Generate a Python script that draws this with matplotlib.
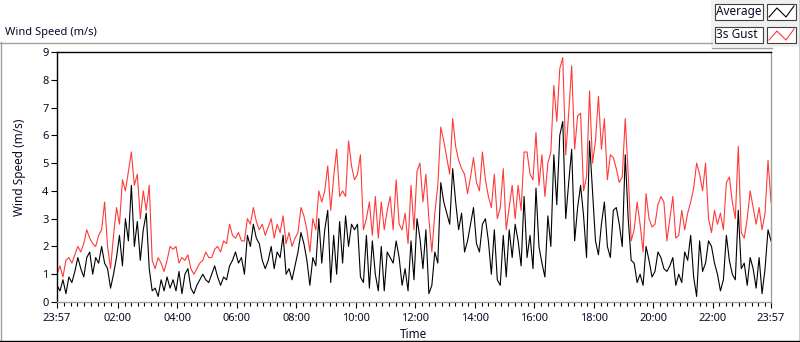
import matplotlib

matplotlib.use("Agg")
import matplotlib.pyplot as plt
import numpy as np
from matplotlib.lines import Line2D
from matplotlib.patches import Rectangle

plt.rcParams["font.family"] = ["Noto Sans", "DejaVu Sans"]

# samples every 6 minutes, starting 23:57
STEP_MIN = 6

gust_ms = [
    1.0, 1.3, 0.9, 1.5, 1.6, 1.4, 1.7, 2.0, 1.8, 2.1,
    2.6, 2.3, 2.1, 2.0, 2.4, 2.6, 3.6, 2.0, 1.2, 2.4,
    3.4, 2.8, 4.4, 4.0, 4.7, 5.4, 4.2, 4.6, 3.0, 4.0,
    3.3, 4.2, 1.5, 1.2, 1.6, 1.4, 1.1, 1.5,
    2.0, 1.9, 2.0, 1.4, 1.6, 1.5, 1.7, 1.2, 1.0, 1.2,
    1.4, 1.5, 1.8, 1.6, 1.6, 1.9, 2.0, 1.8, 2.2, 2.1,
    2.8, 2.4, 2.3, 2.5, 2.2, 2.2, 3.0, 2.8, 3.4, 2.9,
    2.6, 2.8, 2.4, 2.7, 3.0, 2.3, 2.8, 2.5, 3.1,
    2.1, 2.5, 2.0, 2.3, 2.5, 3.4, 3.1, 2.6, 1.8, 3.0,
    2.6, 4.0, 3.6, 4.0, 4.9, 3.3, 4.5, 5.5, 3.8, 4.0,
    3.8, 5.8, 4.9, 4.4, 4.6, 5.3, 2.6, 3.0, 3.6, 2.4,
    3.8, 2.3, 3.6, 2.6, 3.3, 3.8, 2.6, 4.4,
    2.8, 2.6, 3.2, 2.1, 4.2, 2.6, 4.7, 5.0, 3.6, 4.6,
    3.0, 1.8, 3.2, 4.2, 6.3, 5.8, 5.2, 4.6, 6.6, 5.6,
    5.1, 4.8, 4.6, 3.9, 4.5, 5.2, 4.3, 4.0, 5.4, 4.4,
    3.8, 3.4, 4.6, 3.0, 3.4, 4.8, 2.6, 3.4, 4.2,
    3.0, 4.2, 3.3, 5.4, 5.4, 4.6, 4.4, 6.1, 4.2, 5.3,
    3.8, 5.0, 5.4, 7.8, 6.5, 8.4, 8.8, 5.3, 6.8, 8.5,
    5.5, 6.7, 6.8, 4.0, 4.5, 7.6, 5.0, 5.8, 7.4, 5.5,
    6.6, 4.4, 5.3, 5.2, 4.8, 4.3, 4.5, 6.6, 4.6,
    2.2, 2.6, 3.6, 2.8, 1.8, 3.9, 3.0, 2.7, 2.8, 3.5,
    3.8, 3.6, 2.2, 3.0, 3.8, 2.3, 2.4, 3.3, 2.6, 3.2,
    3.6, 4.1, 5.0, 4.6, 4.0, 5.0, 3.0, 2.5, 3.3, 2.8,
    3.2, 2.6, 4.3, 4.5, 3.6, 3.0, 5.6, 2.5, 2.3, 3.0,
    4.0, 3.4, 2.8, 3.4, 2.6, 3.2, 5.1, 3.6,
]

average_ms = [
    0.6, 0.4, 0.8, 0.3, 0.9, 0.7, 1.1, 1.6, 1.2, 0.9,
    1.6, 1.8, 1.0, 1.6, 1.4, 2.0, 1.4, 1.2, 0.5, 1.0,
    1.6, 2.4, 1.3, 3.0, 2.2, 4.2, 2.0, 2.9, 1.5, 2.6,
    3.2, 1.2, 0.4, 0.5, 0.2, 0.8, 0.4, 0.9,
    0.5, 0.8, 0.4, 1.1, 0.3, 1.0, 1.2, 0.5, 0.3, 0.6,
    0.8, 1.0, 0.8, 0.7, 1.0, 1.3, 0.9, 0.6, 0.9, 0.8,
    1.3, 1.5, 1.8, 1.4, 1.6, 1.0, 2.4, 2.0, 2.8, 2.3,
    2.1, 1.5, 1.2, 1.5, 2.0, 1.2, 1.8, 1.6, 2.4,
    1.0, 1.2, 0.8, 1.3, 1.8, 2.5, 2.1, 1.5, 0.6, 1.6,
    1.3, 3.0, 1.4, 2.6, 3.3, 0.7, 2.4, 1.0, 2.9, 1.4,
    3.1, 2.0, 2.8, 2.6, 2.8, 0.9, 0.7, 2.4, 0.5, 2.2,
    1.0, 0.4, 2.0, 0.4, 1.8, 1.6, 1.4, 2.2,
    1.6, 0.6, 1.2, 0.4, 2.2, 0.8, 3.0, 2.3, 1.2, 2.6,
    0.3, 0.6, 1.8, 1.4, 4.3, 3.6, 3.2, 2.8, 4.8, 3.6,
    2.6, 3.2, 1.8, 2.2, 2.8, 3.4, 2.1, 1.8, 2.8, 3.0,
    2.2, 1.0, 2.6, 0.8, 0.6, 2.4, 0.9, 2.6, 1.6,
    2.8, 2.2, 1.3, 3.8, 1.6, 2.4, 1.2, 4.1, 2.0, 1.4,
    0.9, 3.1, 2.0, 5.3, 3.5, 6.0, 6.5, 3.0, 4.3, 5.5,
    2.2, 3.4, 4.2, 3.1, 1.6, 5.8, 4.0, 2.2, 1.7, 2.8,
    3.6, 2.0, 1.6, 3.3, 3.4, 2.8, 2.0, 5.3, 3.0,
    1.5, 1.4, 0.7, 1.0, 0.6, 2.0, 1.5, 0.9, 1.1, 1.8,
    1.6, 1.2, 1.1, 1.3, 1.6, 0.6, 1.0, 0.7, 1.8, 1.5,
    2.4, 0.9, 0.2, 2.2, 1.1, 1.4, 2.2, 2.0, 1.4, 1.0,
    0.4, 0.8, 2.4, 1.5, 1.0, 0.8, 3.3, 1.2, 1.4, 0.6,
    1.6, 1.2, 0.5, 1.6, 0.3, 1.2, 2.6, 2.2,
]

# minutes after 23:57 for each labelled tick
tick_minutes = [0, 123, 243, 363, 483, 603, 723, 843, 963, 1083, 1203, 1323, 1440]
tick_labels = ["23:57", "02:00", "04:00", "06:00", "08:00", "10:00", "12:00",
               "14:00", "16:00", "18:00", "20:00", "22:00", "23:57"]

W, H = 800, 342
TXT = "#0a0a28"


def px(x, y):
    return x / W, 1 - y / H


def hline(fig, x0, x1, y, color, lw=1.0):
    fig.add_artist(Line2D([x0 / W, x1 / W], [1 - y / H, 1 - y / H],
                          transform=fig.transFigure, color=color, lw=lw))


def vline(fig, x, y0, y1, color, lw=1.0):
    fig.add_artist(Line2D([x / W, x / W], [1 - y0 / H, 1 - y1 / H],
                          transform=fig.transFigure, color=color, lw=lw))


fig = plt.figure(figsize=(8, 3.42), dpi=100)
fig.patch.set_facecolor("white")

# outer panel frame (light top/left, dark bottom/right)
hline(fig, 0, 712, 42.5, "#a0a0a0")
vline(fig, 0.5, 42, 340, "#a0a0a0")
hline(fig, 0, 800, 340.5, "#000000")
vline(fig, 799.5, 0, 341, "#000000")

fig.text(5 / W, 1 - 32 / H, "Wind Speed (m/s)", fontsize=8, va="center", ha="left",
         color=TXT)

ax = fig.add_axes([57 / W, 1 - 302 / H, (771 - 57) / W, (302 - 52) / H])
t = np.arange(len(gust_ms)) * STEP_MIN
ax.plot(t, gust_ms, color="#ff3a3a", lw=0.8)
ax.plot(t, average_ms, color="#000000", lw=0.8)

ax.set_xlim(0, 1440)
ax.set_ylim(0, 9)
ax.set_yticks(range(0, 10))
ax.set_xticks(tick_minutes)
ax.set_xticklabels(tick_labels)

minor = []
for a, b in zip(tick_minutes[:-1], tick_minutes[1:]):
    minor.extend(np.linspace(a, b, 10)[1:-1])
ax.set_xticks(minor, minor=True)

ax.tick_params(axis="both", which="major", labelsize=8, length=4, width=0.8,
               color="#000000", labelcolor=TXT)
ax.tick_params(axis="x", which="major", pad=4)
ax.tick_params(axis="y", which="major", pad=2)
ax.tick_params(axis="x", which="minor", length=3, width=0.8, color="#000000")
ax.spines["left"].set_color("#000000")
ax.spines["top"].set_color("#000000")
ax.spines["right"].set_color("#a0a0a0")
ax.spines["bottom"].set_color("#a0a0a0")
for s in ax.spines.values():
    s.set_linewidth(1.0)

ax.set_ylabel("Wind Speed (m/s)", fontsize=8.5, color=TXT)
ax.yaxis.set_label_coords(-0.0435, 0.54)
ax.set_xlabel("Time", fontsize=8.5, labelpad=3, color=TXT)

# legend (LabVIEW style plot legend, top right)
fig.add_artist(Rectangle(px(711, 47), 88 / W, 47 / H, transform=fig.transFigure,
                         facecolor="#f0f0f0", edgecolor="none"))
hline(fig, 712, 772, 47.5, "#a0a0a0")
rows = [("Average", "#000000", 4), ("3s Gust", "#ff3a3a", 27)]
for name, col, top in rows:
    fig.add_artist(Rectangle(px(714.5, top + 15.5), 48 / W, 15 / H,
                             transform=fig.transFigure, facecolor="white",
                             edgecolor="#404040", lw=0.8))
    fig.text(716 / W, 1 - (top + 8) / H, name, fontsize=8.5, va="center",
             ha="left", color=TXT)
    fig.add_artist(Rectangle(px(766.5, top + 15.5), 29 / W, 15 / H,
                             transform=fig.transFigure, facecolor="white",
                             edgecolor="#404040", lw=0.8))
    zx = np.array([769, 777, 786, 794])
    zy = np.array([top + 13, top + 4, top + 13, top + 2])
    fig.add_artist(Line2D(zx / W, 1 - zy / H, transform=fig.transFigure,
                          color=col, lw=0.8))

fig.savefig("out.png", dpi=100)
